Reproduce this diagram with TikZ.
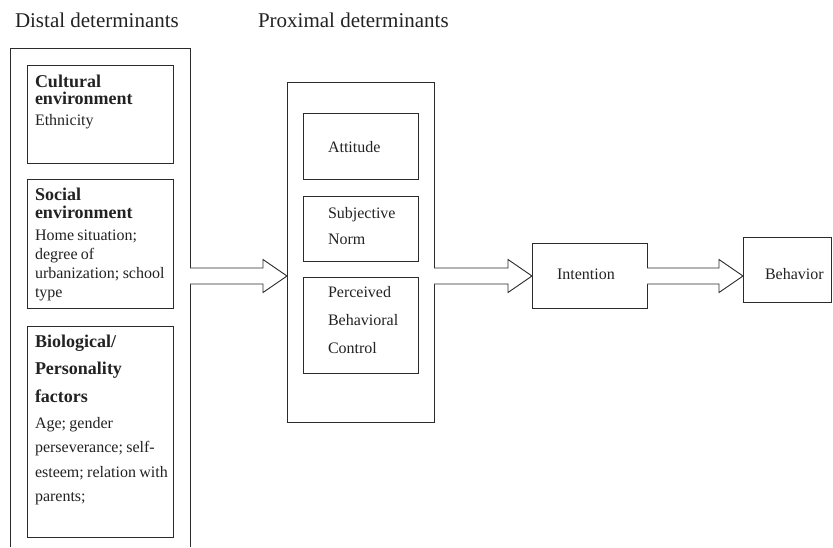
\documentclass[tikz,border=0pt]{standalone}
\usepackage{fontspec}
\setmainfont{Liberation Serif}
\usetikzlibrary{calc}
\definecolor{linec}{HTML}{2B2B2B}
\definecolor{textc}{HTML}{222222}
\tikzset{
  box/.style={draw=linec, line width=0.9pt, rectangle, inner sep=0pt, outer sep=0pt, anchor=north west},
  txt/.style={inner sep=0pt, outer sep=0pt, anchor=base west, align=left, text width=#1, text=textc},
  hdr/.style={inner sep=0pt, outer sep=0pt, anchor=base west, text=textc, font=\fontsize{21}{25}\selectfont},
  blockarrow/.style={draw=linec, line width=0.9pt, fill=white, line join=miter},
}
\newcommand{\barrow}[2]{%
  \draw[blockarrow] ($(#1)+(0,8)$) -- ($(#2)+(-24,8)$) -- ($(#2)+(-24,16.5)$) -- (#2)
    -- ($(#2)+(-24,-16.5)$) -- ($(#2)+(-24,-8)$) -- ($(#1)+(0,-8)$);}
\newcommand{\bfsz}[1]{\fontsize{18}{#1}\selectfont\bfseries}
\newcommand{\rgsz}[1]{\fontsize{16}{#1}\selectfont\mdseries}
\begin{document}
\begin{tikzpicture}[x=1pt,y=-1pt]
\useasboundingbox (0,0) rectangle (833,547);
% headers
\node[hdr] (hdist) at (15,27) {Distal determinants};
\node[hdr] (hprox) at (258,27) {Proximal determinants};
% distal outer frame (open at the bottom)
\coordinate (dBL) at (10,547);
\coordinate (dTL) at (10,48);
\coordinate (dTR) at (190,48);
\coordinate (dBR) at (190,547);
\draw[draw=linec, line width=0.9pt] (dBL) -- (dTL) -- (dTR) -- (dBR);
% distal boxes
\node[box, minimum width=146, minimum height=98] (cult) at (27,65) {};
\node[box, minimum width=146, minimum height=129] (soc) at (27,179) {};
\node[box, minimum width=146, minimum height=211] (bio) at (27,326) {};
\node[txt=140] (cultT) at (35,87) {{\bfsz{17}Cultural\\environment\par}\rgsz{21}Ethnicity\par};
\node[txt=140] (socT) at (35,200) {{\bfsz{18}Social\\environment\par}\vspace{3pt}\rgsz{19}Home situation;\\degree of\\urbanization; school\\type\par};
\node[txt=140] (bioT) at (35,347) {{\bfsz{27.5}Biological/\\Personality\\factors\par}\vspace{1.5pt}\rgsz{24.5}Age; gender\\perseverance; self-\\esteem; relation with\\parents;\par};
% proximal
\node[box, minimum width=147, minimum height=340] (prox) at (287,82) {};
\node[box, minimum width=115, minimum height=66] (att) at (303,113) {};
\node[box, minimum width=115, minimum height=65] (subj) at (303,196) {};
\node[box, minimum width=115, minimum height=96] (pbc) at (303,277) {};
\node[txt=100] (attT) at (328,152) {\rgsz{26}Attitude\par};
\node[txt=100] (subjT) at (328,218) {\rgsz{26}Subjective\\Norm\par};
\node[txt=100] (pbcT) at (328,297) {\rgsz{28}Perceived\\Behavioral\\Control\par};
% intention, behavior
\node[box, minimum width=115, minimum height=65] (intn) at (532,243) {};
\node[box, minimum width=88, minimum height=65] (beh) at (743,237) {};
\node[txt=80] (intnT) at (557,279) {\rgsz{19}Intention\par};
\node[txt=80] (behT) at (765,279) {\rgsz{19}Behavior\par};
% arrows
\coordinate (axis) at (0,276);
\coordinate (a1s) at (dTR |- axis);
\coordinate (a1t) at (prox.west |- axis);
\coordinate (a2s) at (prox.east |- axis);
\coordinate (a2t) at (intn.west |- axis);
\coordinate (a3s) at (intn.east |- axis);
\coordinate (a3t) at (beh.west |- axis);
\barrow{a1s}{a1t}
\barrow{a2s}{a2t}
\barrow{a3s}{a3t}
\end{tikzpicture}
\end{document}
